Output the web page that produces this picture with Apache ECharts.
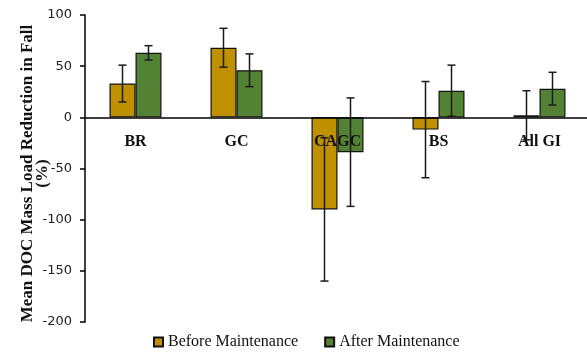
<!DOCTYPE html>
<html>
<head>
<meta charset="utf-8">
<script src="https://cdn.jsdelivr.net/npm/echarts@6/dist/echarts.min.js"></script>
<style>
  html, body { margin: 0; padding: 0; background: #fff; }
  #chart { width: 587px; height: 352px; }
</style>
</head>
<body>
<div id="chart"></div>
<script>
// Mean DOC mass load reduction in fall, by GI site
const categories = ['BR', 'GC', 'CAGC', 'BS', 'All GI'];
const beforeMean = [33, 68, -90, -12, 2];
const beforeErr = [18, 19, 70, 47, 24];
const afterMean = [63, 46, -34, 26, 28];
const afterErr = [7, 16, 53, 25, 16];
const yTicks = { min: -200, max: 100, interval: 50 };

const BAR_W = 26;
const GRID = { left: 85, top: 15, width: 505, bottom: 30 };
const CHART_H = 352;
const serif = '"Liberation Serif", "DejaVu Serif", serif';

// category axis sits on the zero line, labels included
const plotH = CHART_H - GRID.top - GRID.bottom;
const zeroOffset = -plotH * (0 - yTicks.min) / (yTicks.max - yTicks.min);

function errData(means, errs) {
  return means.map((m, i) => [i, m - errs[i], m + errs[i]]);
}

function errRenderer(offset) {
  return function (params, api) {
    const i = api.value(0);
    const x = api.coord([i, 0])[0] + offset;
    const yLo = api.coord([i, api.value(1)])[1];
    const yHi = api.coord([i, api.value(2)])[1];
    const cap = 4;
    const style = { stroke: '#1a1a1a', lineWidth: 1.5 };
    return {
      type: 'group',
      children: [
        { type: 'line', shape: { x1: x, y1: yLo, x2: x, y2: yHi }, style },
        { type: 'line', shape: { x1: x - cap, y1: yHi, x2: x + cap, y2: yHi }, style },
        { type: 'line', shape: { x1: x - cap, y1: yLo, x2: x + cap, y2: yLo }, style }
      ]
    };
  };
}

const chart = echarts.init(document.getElementById('chart'));
chart.setOption({
  animation: false,
  grid: Object.assign({ outerBoundsMode: 'none', containLabel: false }, GRID),
  legend: {
    top: 329,
    left: 148,
    itemWidth: 9,
    itemHeight: 9,
    itemGap: 26,
    icon: 'rect',
    textStyle: { fontFamily: serif, fontSize: 16, color: '#111' },
    data: ['Before Maintenance', 'After Maintenance']
  },
  xAxis: {
    type: 'category',
    data: categories,
    z: 10,
    position: 'bottom',
    offset: zeroOffset,
    axisLine: { onZero: false, lineStyle: { color: '#000', width: 1.5 } },
    axisTick: { show: false },
    axisLabel: {
      margin: 17,
      fontFamily: serif,
      fontWeight: 'bold',
      fontSize: 16,
      color: '#111'
    }
  },
  yAxis: {
    type: 'value',
    min: yTicks.min,
    max: yTicks.max,
    interval: yTicks.interval,
    name: 'Mean DOC Mass Load Reduction in Fall\n(%)',
    nameLocation: 'middle',
    nameRotate: 90,
    nameGap: 35,
    nameMoveOverlap: false,
    nameTextStyle: {
      fontFamily: serif,
      fontWeight: 'bold',
      fontSize: 17,
      color: '#111',
      lineHeight: 15,
      padding: [0, 10, 0, 0]
    },
    splitLine: { show: false },
    axisLine: { show: true, lineStyle: { color: '#000', width: 1.5 } },
    axisTick: { show: true, length: 5, lineStyle: { color: '#000', width: 1.5 } },
    axisLabel: {
      margin: 13,
      fontFamily: '"DejaVu Sans", sans-serif',
      fontSize: 13,
      color: '#222'
    }
  },
  series: [
    {
      name: 'Before Maintenance',
      type: 'bar',
      data: beforeMean,
      barWidth: BAR_W,
      barGap: '0%',
      itemStyle: { color: '#BF9000', borderColor: '#111', borderWidth: 1.2 }
    },
    {
      name: 'After Maintenance',
      type: 'bar',
      data: afterMean,
      barWidth: BAR_W,
      barGap: '0%',
      itemStyle: { color: '#548235', borderColor: '#111', borderWidth: 1.2 }
    },
    {
      type: 'custom',
      z: 12,
      renderItem: errRenderer(-BAR_W / 2),
      data: errData(beforeMean, beforeErr),
      encode: { x: 0, y: [1, 2] },
      silent: true
    },
    {
      type: 'custom',
      z: 12,
      renderItem: errRenderer(BAR_W / 2),
      data: errData(afterMean, afterErr),
      encode: { x: 0, y: [1, 2] },
      silent: true
    }
  ]
});
</script>
</body>
</html>
